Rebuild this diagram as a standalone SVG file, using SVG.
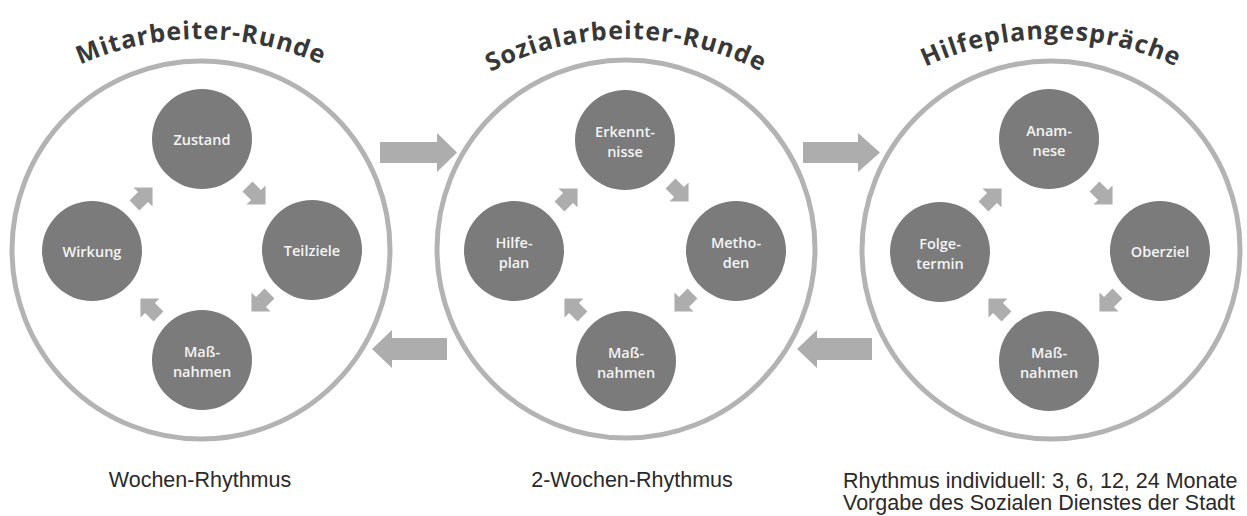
<svg xmlns="http://www.w3.org/2000/svg" xmlns:xlink="http://www.w3.org/1999/xlink" width="1247" height="516" viewBox="0 0 1247 516">
<style>
.ring{fill:none;stroke:#b3b3b3;stroke-width:5}
.node{fill:#7b7b7b}
.lbl{font-family:"Open Sans","DejaVu Sans",sans-serif;font-weight:600;font-size:14.5px;fill:#f4f4f4;text-anchor:middle}
.title{font-family:"Open Sans","DejaVu Sans",sans-serif;font-weight:700;font-size:25px;letter-spacing:1px;fill:#383838}
.arr{fill:#adadad}
.cap{font-family:"Liberation Sans",Arial,sans-serif;font-size:21.5px;fill:#2a2a2a}
</style>
<defs>
<path id="sa" d="M-12,-7 L0,-7 L0,-13.5 L13.5,0 L0,13.5 L0,7 L-12,7 Z"/>
<path id="arc1" d="M-95,335 A296,296 0 0 1 497,335"/>
<path id="arc2" d="M330,335 A296,296 0 0 1 922,335"/>
<path id="arc3" d="M755,335 A296,296 0 0 1 1347,335"/>
</defs>
<rect width="1247" height="516" fill="#ffffff"/>

<g id="titles">
<text class="title" text-anchor="middle"><textPath href="#arc1" xlink:href="#arc1" startOffset="50%">Mitarbeiter-Runde</textPath></text>
<text class="title" text-anchor="middle"><textPath href="#arc2" xlink:href="#arc2" startOffset="50%">Sozialarbeiter-Runde</textPath></text>
<text class="title" text-anchor="middle"><textPath href="#arc3" xlink:href="#arc3" startOffset="50%">Hilfeplangespräche</textPath></text>
</g>

<g id="ring1"><circle class="ring" cx="201" cy="250" r="189"/></g>
<g id="ring2"><circle class="ring" cx="626" cy="249" r="189"/></g>
<g id="ring3"><circle class="ring" cx="1051" cy="250" r="189"/></g>

<g id="connectors">
<path class="arr" d="M380,142 L437,142 L437,133 L457,152.5 L437,172 L437,163 L380,163 Z"/>
<path class="arr" d="M803,142 L858,142 L858,133 L880,152.5 L858,172 L858,163 L803,163 Z"/>
<path class="arr" d="M447,338 L392,338 L392,330 L372,349 L392,368 L392,360 L447,360 Z"/>
<path class="arr" d="M872,338 L817,338 L817,330 L797,349 L817,368 L817,360 L872,360 Z"/>
<use href="#sa" xlink:href="#sa" class="arr" transform="translate(256,195) rotate(45)"/>
<use href="#sa" xlink:href="#sa" class="arr" transform="translate(261,302) rotate(135)"/>
<use href="#sa" xlink:href="#sa" class="arr" transform="translate(150,308) rotate(225)"/>
<use href="#sa" xlink:href="#sa" class="arr" transform="translate(143,197) rotate(315)"/>
<use href="#sa" xlink:href="#sa" class="arr" transform="translate(679,192) rotate(45)"/>
<use href="#sa" xlink:href="#sa" class="arr" transform="translate(684,302) rotate(135)"/>
<use href="#sa" xlink:href="#sa" class="arr" transform="translate(574,308) rotate(225)"/>
<use href="#sa" xlink:href="#sa" class="arr" transform="translate(568,198) rotate(315)"/>
<use href="#sa" xlink:href="#sa" class="arr" transform="translate(1103,195) rotate(45)"/>
<use href="#sa" xlink:href="#sa" class="arr" transform="translate(1109,302) rotate(135)"/>
<use href="#sa" xlink:href="#sa" class="arr" transform="translate(998,308) rotate(225)"/>
<use href="#sa" xlink:href="#sa" class="arr" transform="translate(992,198) rotate(315)"/>
</g>

<g id="n-zustand"><circle class="node" cx="202" cy="139" r="50"/><text class="lbl" x="202" y="145">Zustand</text></g>
<g id="n-teilziele"><circle class="node" cx="312" cy="250" r="50"/><text class="lbl" x="312" y="256">Teilziele</text></g>
<g id="n-massnahmen1"><circle class="node" cx="202" cy="360" r="50"/><text class="lbl" x="202" y="357">Maß-<tspan x="202" dy="20">nahmen</tspan></text></g>
<g id="n-wirkung"><circle class="node" cx="92" cy="251" r="50"/><text class="lbl" x="92" y="257">Wirkung</text></g>

<g id="n-erkenntnisse"><circle class="node" cx="625" cy="140" r="50"/><text class="lbl" x="625" y="137">Erkennt-<tspan x="625" dy="20">nisse</tspan></text></g>
<g id="n-methoden"><circle class="node" cx="736" cy="251" r="50"/><text class="lbl" x="736" y="248">Metho-<tspan x="736" dy="20">den</tspan></text></g>
<g id="n-massnahmen2"><circle class="node" cx="626" cy="361" r="50"/><text class="lbl" x="626" y="358">Maß-<tspan x="626" dy="20">nahmen</tspan></text></g>
<g id="n-hilfeplan"><circle class="node" cx="514" cy="251" r="50"/><text class="lbl" x="514" y="248">Hilfe-<tspan x="514" dy="20">plan</tspan></text></g>

<g id="n-anamnese"><circle class="node" cx="1049" cy="139" r="50"/><text class="lbl" x="1049" y="136">Anam-<tspan x="1049" dy="20">nese</tspan></text></g>
<g id="n-oberziel"><circle class="node" cx="1160" cy="251" r="50"/><text class="lbl" x="1160" y="257">Oberziel</text></g>
<g id="n-massnahmen3"><circle class="node" cx="1049" cy="361" r="50"/><text class="lbl" x="1049" y="358">Maß-<tspan x="1049" dy="20">nahmen</tspan></text></g>
<g id="n-folgetermin"><circle class="node" cx="940" cy="252" r="50"/><text class="lbl" x="940" y="249">Folge-<tspan x="940" dy="20">termin</tspan></text></g>

<g id="captions">
<text class="cap" x="200" y="487" text-anchor="middle">Wochen-Rhythmus</text>
<text class="cap" x="632" y="487" text-anchor="middle">2-Wochen-Rhythmus</text>
<text class="cap" x="843" y="488">Rhythmus individuell: 3, 6, 12, 24 Monate<tspan x="843" dy="22">Vorgabe des Sozialen Dienstes der Stadt</tspan></text>
</g>
</svg>
